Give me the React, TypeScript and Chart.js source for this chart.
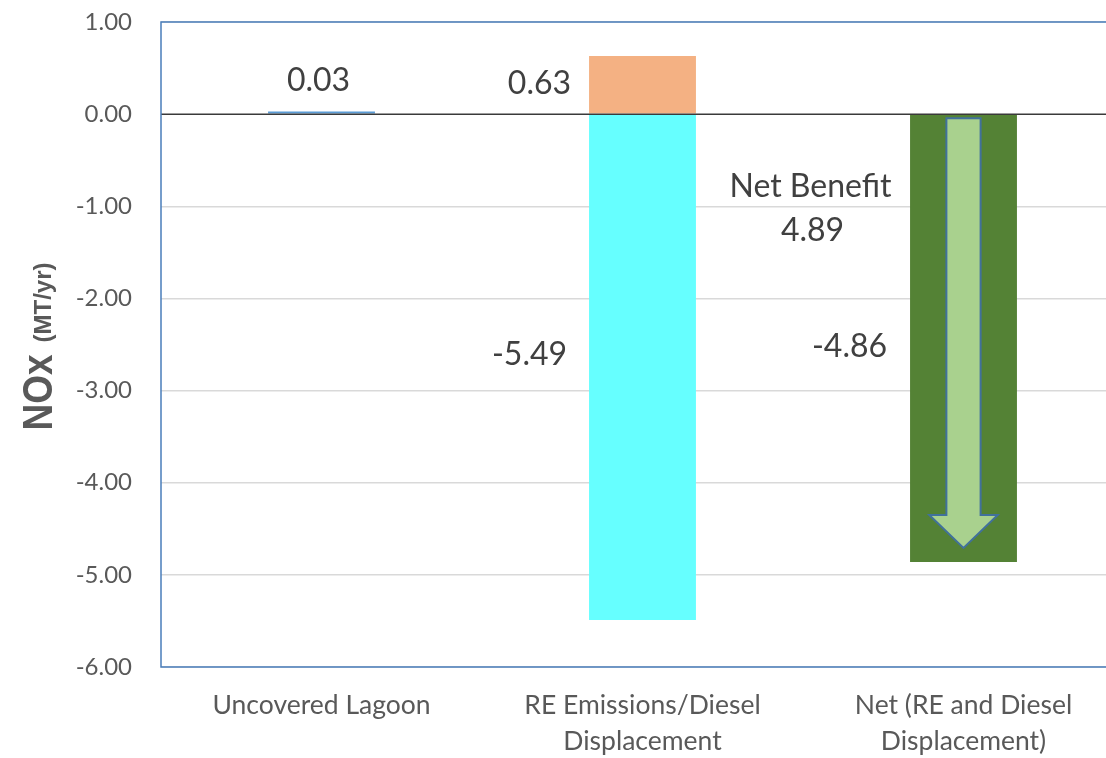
import React, { useEffect, useRef } from "react";
import { Chart, registerables } from "chart.js";

Chart.register(...registerables);

const categories: string[][] = [
  ["Uncovered Lagoon"],
  ["RE Emissions/Diesel", "Displacement"],
  ["Net (RE and Diesel", "Displacement)"],
];
const lagoonValues = [0.03, null, null];
const reEmissionValues = [null, 0.63, null];
const dieselDisplacementValues = [null, -5.49, null];
const netValues = [null, null, -4.86];
const netBenefitValue = 4.89;
const netBenefitLabel = "Net Benefit";
const yMin = -6;
const yMax = 1;
const yStep = 1;

const TEXT = "#404040";
const TICK = "#595959";
const LABEL_FONT = "Lato, 'Open Sans', sans-serif";

const fmt = (v: number) => v.toFixed(2);

const overlayPlugin = {
  id: "overlay",
  afterDatasetsDraw(chart: any) {
    const { ctx, chartArea, scales } = chart;
    const y = scales.y;
    ctx.save();
    ctx.strokeStyle = "#3a3a3a";
    ctx.lineWidth = 1.5;
    const y0 = y.getPixelForValue(0);
    ctx.beginPath();
    ctx.moveTo(chartArea.left, y0);
    ctx.lineTo(chartArea.right, y0);
    ctx.stroke();

    const netBar = chart.getDatasetMeta(3).data[2];
    if (netBar) {
      const cx = netBar.x;
      const w = netBar.width;
      const top = y0 + 4;
      const tip = netBar.y - 14;
      const shaftHalf = w * 0.16;
      const headHalf = w * 0.32;
      const headTop = tip - 33;
      ctx.beginPath();
      ctx.moveTo(cx - shaftHalf, top);
      ctx.lineTo(cx + shaftHalf, top);
      ctx.lineTo(cx + shaftHalf, headTop);
      ctx.lineTo(cx + headHalf, headTop);
      ctx.lineTo(cx, tip);
      ctx.lineTo(cx - headHalf, headTop);
      ctx.lineTo(cx - shaftHalf, headTop);
      ctx.closePath();
      ctx.fillStyle = "#A9D18E";
      ctx.fill();
      ctx.strokeStyle = "#41719C";
      ctx.lineWidth = 2;
      ctx.stroke();
    }

    ctx.fillStyle = TEXT;
    ctx.font = `32px ${LABEL_FONT}`;
    ctx.textBaseline = "middle";
    const b0 = chart.getDatasetMeta(0).data[0];
    if (b0) {
      ctx.textAlign = "center";
      ctx.fillText(fmt(lagoonValues[0] as number), b0.x - 3, b0.y - 31);
    }
    const b1 = chart.getDatasetMeta(1).data[1];
    if (b1) {
      ctx.textAlign = "right";
      ctx.fillText(fmt(reEmissionValues[1] as number), b1.x - b1.width / 2 - 18, y.getPixelForValue((reEmissionValues[1] as number) * 0.52));
    }
    const b2 = chart.getDatasetMeta(2).data[1];
    if (b2) {
      ctx.textAlign = "right";
      ctx.fillText(fmt(dieselDisplacementValues[1] as number), b2.x - b2.width / 2 - 22, y.getPixelForValue((dieselDisplacementValues[1] as number) * 0.475));
    }
    if (netBar) {
      ctx.textAlign = "right";
      ctx.fillText(fmt(netValues[2] as number), netBar.x - netBar.width / 2 - 23, y.getPixelForValue((netValues[2] as number) * 0.52));
      ctx.textAlign = "center";
      const lx = netBar.x - 153;
      const ly = y.getPixelForValue(-0.79);
      ctx.fillText(netBenefitLabel, lx, ly);
      ctx.fillText(fmt(netBenefitValue), lx + 2, ly + 44);
    }
    ctx.restore();
  },
  afterDraw(chart: any) {
    const { ctx, chartArea } = chart;
    ctx.save();
    ctx.strokeStyle = "#4A7EBB";
    ctx.lineWidth = 1.5;
    ctx.strokeRect(chartArea.left, chartArea.top, chartArea.right - chartArea.left, chartArea.bottom - chartArea.top);
    const cy = (chartArea.top + chartArea.bottom) / 2 + 2;
    ctx.translate(52, cy);
    ctx.rotate(-Math.PI / 2);
    ctx.fillStyle = TICK;
    ctx.textBaseline = "alphabetic";
    ctx.textAlign = "left";
    const bigFont = "bold 43px 'Liberation Sans', Arial, sans-serif";
    const smallFont = "bold 24px 'Liberation Sans', Arial, sans-serif";
    const squeeze = 0.86;
    const gap = 12;
    const big = "NOx";
    const small = "(MT/yr)";
    ctx.font = bigFont;
    const wBig = ctx.measureText(big).width * squeeze;
    ctx.font = smallFont;
    const wSmall = ctx.measureText(small).width;
    const start = -(wBig + gap + wSmall) / 2;
    ctx.save();
    ctx.translate(start, 0);
    ctx.scale(squeeze, 1);
    ctx.font = bigFont;
    ctx.fillText(big, 0, 0);
    ctx.restore();
    ctx.font = smallFont;
    ctx.fillText(small, start + wBig + gap, -1);
    ctx.restore();
  },
};

export default function App() {
  const canvasRef = useRef<HTMLCanvasElement>(null);

  useEffect(() => {
    if (!canvasRef.current) return;
    const chart = new Chart(canvasRef.current, {
      type: "bar",
      data: {
        labels: categories,
        datasets: [
          { label: "Uncovered Lagoon", data: lagoonValues, backgroundColor: "#5B9BD5", stack: "s" },
          { label: "RE Emissions", data: reEmissionValues, backgroundColor: "#F4B183", stack: "s" },
          { label: "Diesel Displacement", data: dieselDisplacementValues, backgroundColor: "#66FFFF", stack: "s" },
          { label: "Net", data: netValues, backgroundColor: "#548235", stack: "s" },
        ],
      },
      options: {
        responsive: false,
        animation: false,
        devicePixelRatio: 1,
        layout: { padding: { top: 22, right: 6, left: 0, bottom: 0 } },
        datasets: { bar: { categoryPercentage: 0.333, barPercentage: 1 } },
        plugins: { legend: { display: false }, tooltip: { enabled: false }, title: { display: false } },
        scales: {
          x: {
            stacked: true,
            grid: { display: false },
            border: { display: false },
            afterFit: (s: any) => { s.height = 91; s.paddingTop = 0; s.paddingBottom = 0; },
            ticks: {
              color: TICK,
              font: { family: LABEL_FONT, size: 26.5, lineHeight: 1.36 },
              padding: 12,
              maxRotation: 0,
              autoSkip: false,
            },
          },
          y: {
            stacked: true,
            min: yMin,
            max: yMax,
            afterFit: (s: any) => { s.width = 161; s.paddingTop = 0; s.paddingBottom = 0; },
            border: { display: false },
            grid: {
              color: (c: any) => (c.tick && c.tick.value === 0 ? "rgba(0,0,0,0)" : "#D9D9D9"),
              lineWidth: 1.5,
              drawTicks: false,
            },
            ticks: {
              stepSize: yStep,
              color: TICK,
              padding: 29,
              font: { family: LABEL_FONT, size: 24 },
              callback: (v: any) => Number(v).toFixed(2),
            },
          },
        },
      },
      plugins: [overlayPlugin],
    });
    return () => chart.destroy();
  }, []);

  return (
    <div style={{ position: "fixed", left: 0, top: 0, width: "100vw", height: "100vh", overflow: "hidden", background: "#fff" }}>
      <canvas ref={canvasRef} width={1130} height={758} style={{ display: "block" }} />
    </div>
  );
}
